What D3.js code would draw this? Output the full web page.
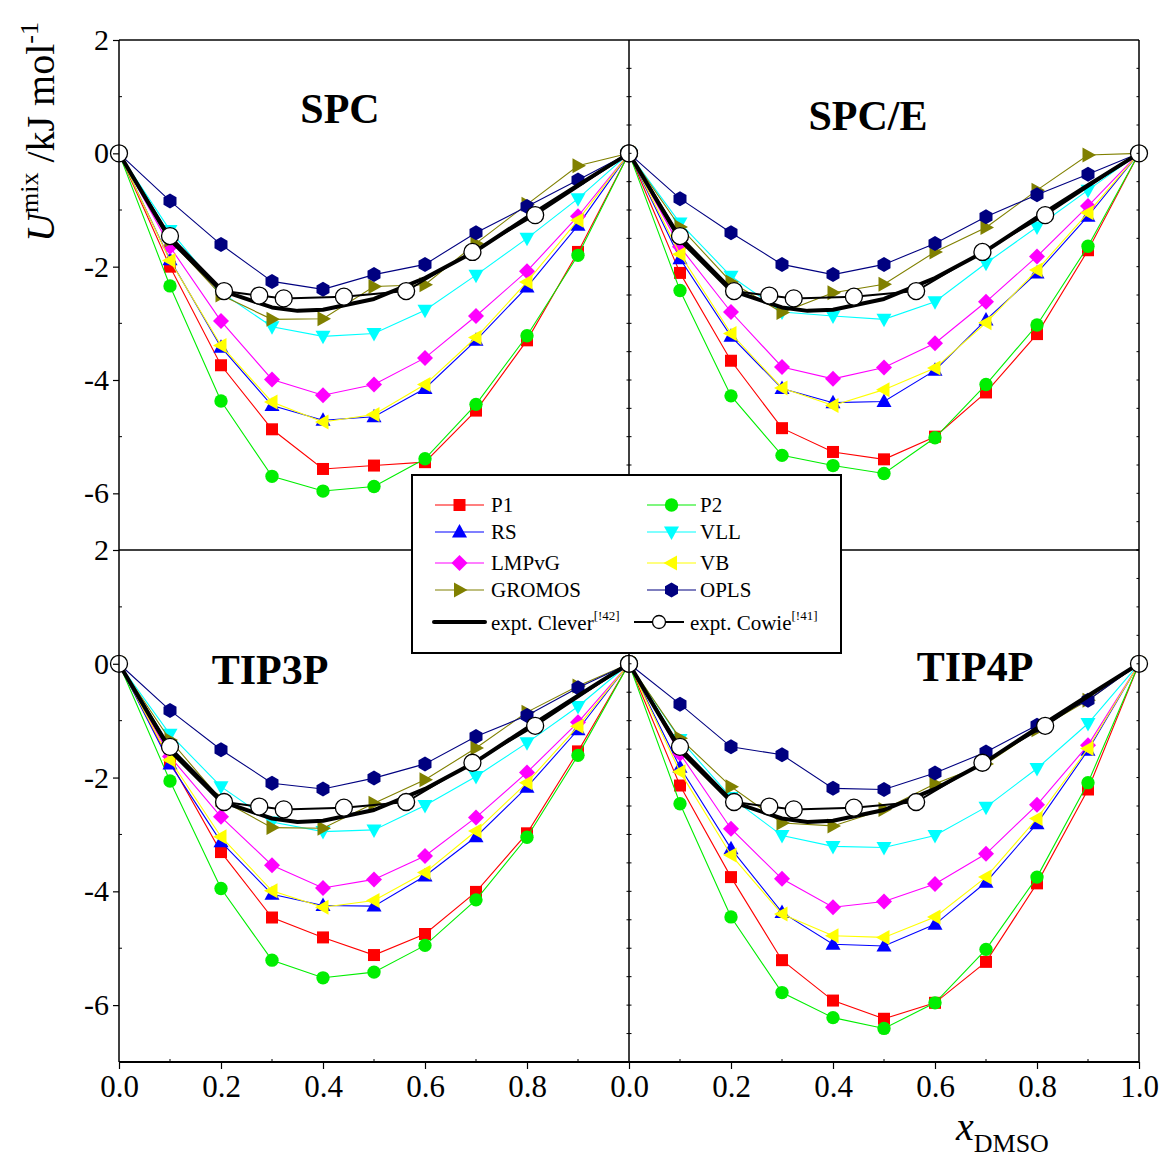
<!DOCTYPE html>
<html>
<head>
<meta charset="utf-8">
<script src="https://cdn.jsdelivr.net/npm/d3@7/dist/d3.min.js"></script>
<style>
  html, body { margin: 0; padding: 0; background: #fff; }
  svg { display: block; font-family: "Liberation Serif", "Times New Roman", serif; }
</style>
</head>
<body>
<svg id="chart" width="1164" height="1162"></svg>
<script>
// Mole fractions of DMSO at which the simulations were run
const xSim = [0, 0.1, 0.2, 0.3, 0.4, 0.5, 0.6, 0.7, 0.8, 0.9, 1.0];

// Force-field models (legend order = drawing order)
const models = ["P1", "P2", "RS", "VLL", "LMPvG", "VB", "GROMOS", "OPLS"];

// U_mix (kJ/mol) for each water model panel
const spcP1     = [0, -2.00, -3.74, -4.87, -5.57, -5.51, -5.45, -4.54, -3.30, -1.74, 0];
const spcP2     = [0, -2.34, -4.37, -5.70, -5.96, -5.88, -5.39, -4.43, -3.22, -1.80, 0];
const spcRS     = [0, -1.88, -3.42, -4.45, -4.71, -4.65, -4.15, -3.30, -2.36, -1.27, 0];
const spcVLL    = [0, -1.36, -2.45, -3.06, -3.23, -3.18, -2.77, -2.15, -1.50, -0.80, 0];
const spcLMPvG  = [0, -1.65, -2.96, -3.99, -4.27, -4.08, -3.61, -2.87, -2.08, -1.11, 0];
const spcVB     = [0, -1.89, -3.39, -4.39, -4.74, -4.61, -4.08, -3.25, -2.27, -1.18, 0];
const spcGROMOS = [0, -1.53, -2.50, -2.93, -2.92, -2.35, -2.32, -1.59, -0.90, -0.22, 0];
const spcOPLS   = [0, -0.84, -1.61, -2.26, -2.40, -2.14, -1.96, -1.40, -0.94, -0.47, 0];

const spceP1     = [0, -2.11, -3.66, -4.85, -5.27, -5.40, -5.00, -4.22, -3.19, -1.71, 0];
const spceP2     = [0, -2.42, -4.28, -5.33, -5.51, -5.65, -5.02, -4.08, -3.03, -1.64, 0];
const spceRS     = [0, -1.86, -3.23, -4.15, -4.40, -4.38, -3.83, -2.94, -2.11, -1.11, 0];
const spceVLL    = [0, -1.23, -2.17, -2.80, -2.87, -2.93, -2.62, -1.94, -1.30, -0.65, 0];
const spceLMPvG  = [0, -1.65, -2.80, -3.77, -3.98, -3.78, -3.35, -2.62, -1.82, -0.93, 0];
const spceVB     = [0, -1.78, -3.18, -4.14, -4.45, -4.17, -3.79, -2.99, -2.06, -1.05, 0];
const spceGROMOS = [0, -1.30, -2.27, -2.81, -2.46, -2.31, -1.74, -1.31, -0.65, -0.03, 0];
const spceOPLS   = [0, -0.80, -1.40, -1.96, -2.14, -1.96, -1.59, -1.12, -0.73, -0.37, 0];

const tip3pP1     = [0, -1.72, -3.31, -4.46, -4.81, -5.12, -4.75, -4.01, -2.98, -1.54, 0];
const tip3pP2     = [0, -2.06, -3.95, -5.21, -5.52, -5.42, -4.95, -4.15, -3.05, -1.61, 0];
const tip3pRS     = [0, -1.76, -3.13, -4.05, -4.25, -4.26, -3.73, -3.04, -2.17, -1.16, 0];
const tip3pVLL    = [0, -1.24, -2.16, -2.78, -2.95, -2.92, -2.49, -1.98, -1.39, -0.75, 0];
const tip3pLMPvG  = [0, -1.63, -2.69, -3.54, -3.94, -3.79, -3.38, -2.70, -1.91, -1.03, 0];
const tip3pVB     = [0, -1.69, -3.04, -3.99, -4.28, -4.16, -3.67, -2.94, -2.09, -1.10, 0];
const tip3pGROMOS = [0, -1.34, -2.39, -2.88, -2.89, -2.45, -2.04, -1.48, -0.85, -0.39, 0];
const tip3pOPLS   = [0, -0.82, -1.51, -2.10, -2.20, -2.01, -1.76, -1.28, -0.91, -0.42, 0];

const tip4pP1     = [0, -2.14, -3.75, -5.21, -5.92, -6.24, -5.96, -5.24, -3.86, -2.21, 0];
const tip4pP2     = [0, -2.46, -4.45, -5.78, -6.22, -6.41, -5.96, -5.02, -3.75, -2.09, 0];
const tip4pRS     = [0, -1.82, -3.25, -4.37, -4.93, -4.96, -4.58, -3.84, -2.81, -1.52, 0];
const tip4pVLL    = [0, -1.33, -2.35, -3.02, -3.21, -3.23, -3.02, -2.52, -1.84, -1.05, 0];
const tip4pLMPvG  = [0, -1.58, -2.90, -3.78, -4.28, -4.18, -3.87, -3.34, -2.48, -1.43, 0];
const tip4pVB     = [0, -1.90, -3.36, -4.40, -4.78, -4.81, -4.45, -3.75, -2.72, -1.49, 0];
const tip4pGROMOS = [0, -1.31, -2.16, -2.80, -2.85, -2.56, -2.11, -1.76, -1.16, -0.64, 0];
const tip4pOPLS   = [0, -0.71, -1.46, -1.60, -2.19, -2.21, -1.92, -1.55, -1.08, -0.64, 0];

// Experimental data (same in every panel)
const cleverX = [0, 0.1, 0.2, 0.3, 0.35, 0.4, 0.5, 0.6, 0.7, 0.8, 0.9, 1.0];
const cleverU = [0, -1.52, -2.42, -2.72, -2.78, -2.76, -2.57, -2.20, -1.72, -1.13, -0.56, 0];
const cowieX  = [0, 0.1, 0.206, 0.275, 0.323, 0.441, 0.563, 0.693, 0.816, 1.0];
const cowieU  = [0, -1.46, -2.43, -2.51, -2.56, -2.53, -2.43, -1.74, -1.09, 0];

// Panel titles and tick labels
const panelTitles = ["SPC", "SPC/E", "TIP3P", "TIP4P"];
const yTickValues = [2, 0, -2, -4, -6];
const xTickLeft   = [0, 0.2, 0.4, 0.6, 0.8];
const xTickRight  = [0, 0.2, 0.4, 0.6, 0.8, 1.0];

const panelData = [
  [spcP1, spcP2, spcRS, spcVLL, spcLMPvG, spcVB, spcGROMOS, spcOPLS],
  [spceP1, spceP2, spceRS, spceVLL, spceLMPvG, spceVB, spceGROMOS, spceOPLS],
  [tip3pP1, tip3pP2, tip3pRS, tip3pVLL, tip3pLMPvG, tip3pVB, tip3pGROMOS, tip3pOPLS],
  [tip4pP1, tip4pP2, tip4pRS, tip4pVLL, tip4pLMPvG, tip4pVB, tip4pGROMOS, tip4pOPLS]
];

const styles = {
  P1:     { color: "#ff0000", shape: "square" },
  P2:     { color: "#00ee00", shape: "circle" },
  RS:     { color: "#0000ff", shape: "triUp" },
  VLL:    { color: "#00ffff", shape: "triDown" },
  LMPvG:  { color: "#ff00ff", shape: "diamond" },
  VB:     { color: "#ffff00", shape: "triLeft" },
  GROMOS: { color: "#808000", shape: "triRight" },
  OPLS:   { color: "#000080", shape: "hexagon" }
};

function markerPath(shape) {
  switch (shape) {
    case "square":   return "M-6,-6H6V6H-6Z";
    case "circle":   return d3.symbol(d3.symbolCircle, 140)();
    case "triUp":    return "M0,-8L7.5,5.5L-7.5,5.5Z";
    case "triDown":  return "M0,8L7.5,-5.5L-7.5,-5.5Z";
    case "triLeft":  return "M-8,0L5.5,-7.5L5.5,7.5Z";
    case "triRight": return "M8,0L-5.5,-7.5L-5.5,7.5Z";
    case "diamond":  return "M0,-8L8,0L0,8L-8,0Z";
    case "hexagon": {
      const r = 7.5;
      const pts = d3.range(6).map(i => {
        const a = Math.PI / 6 + i * Math.PI / 3;
        return [r * Math.cos(a), r * Math.sin(a)];
      });
      return "M" + pts.map(p => p.join(",")).join("L") + "Z";
    }
  }
}

const svg = d3.select("#chart");

const plotLeft = 119, plotMid = 629, plotRight = 1139;
const plotTop = 40, plotMidY = 550, plotBottom = 1062;

const panels = [
  { x: [plotLeft, plotMid],  y: [plotMidY, plotTop] },
  { x: [plotMid, plotRight], y: [plotMidY, plotTop] },
  { x: [plotLeft, plotMid],  y: [plotBottom, plotMidY] },
  { x: [plotMid, plotRight], y: [plotBottom, plotMidY] }
];

panels.forEach((p, i) => {
  const xs = d3.scaleLinear().domain([0, 1]).range(p.x);
  const ys = d3.scaleLinear().domain([-7, 2]).range(p.y);
  const g = svg.append("g");
  const line = d3.line().x(d => xs(d[0])).y(d => ys(d[1]));

  // model series
  panelData[i].forEach((vals, k) => {
    const st = styles[models[k]];
    const pts = xSim.map((x, j) => [x, vals[j]]);
    g.append("path").datum(pts).attr("d", line)
      .attr("fill", "none").attr("stroke", st.color).attr("stroke-width", 1.1);
    g.selectAll(null).data(pts).join("path")
      .attr("d", markerPath(st.shape))
      .attr("transform", d => `translate(${xs(d[0])},${ys(d[1])})`)
      .attr("fill", st.color);
  });

  // experiment: Clever (thick line)
  g.append("path").datum(cleverX.map((x, j) => [x, cleverU[j]]))
    .attr("d", line).attr("fill", "none").attr("stroke", "#000")
    .attr("stroke-width", 4).attr("stroke-linejoin", "round");

  // experiment: Cowie (line + open circles)
  const cw = cowieX.map((x, j) => [x, cowieU[j]]);
  g.append("path").datum(cw).attr("d", line).attr("fill", "none")
    .attr("stroke", "#000").attr("stroke-width", 2);
  g.selectAll(null).data(cw).join("circle")
    .attr("cx", d => xs(d[0])).attr("cy", d => ys(d[1])).attr("r", 8.5)
    .attr("fill", "#fff").attr("stroke", "#000").attr("stroke-width", 1.3);

  // inner ticks on the right edge of each panel
  const minorY = d3.range(-7, 2.01, 0.5);
  g.selectAll(null).data(minorY).join("line")
    .attr("x1", p.x[1]).attr("x2", p.x[1] - 2.5)
    .attr("y1", d => ys(d)).attr("y2", d => ys(d))
    .attr("stroke", "#000").attr("stroke-width", 1);
  if (i % 2 === 1) {
    g.selectAll(null).data(minorY).join("line")
      .attr("x1", p.x[0]).attr("x2", p.x[0] + 2.5)
      .attr("y1", d => ys(d)).attr("y2", d => ys(d))
      .attr("stroke", "#000").attr("stroke-width", 1);
  }

  // left y axis
  if (i % 2 === 0) {
    const ax = d3.axisLeft(ys).tickValues(yTickValues)
      .tickFormat(d => String(d))
      .tickSize(6).tickPadding(4);
    const ag = svg.append("g").attr("transform", `translate(${plotLeft},0)`).call(ax);
    ag.select(".domain").remove();
    ag.selectAll("text").attr("font-size", 30).attr("font-family", "Liberation Serif").attr("fill", "#000");
    ag.selectAll("line").attr("stroke-width", 1.2);
    // minor inner ticks at odd values
    svg.append("g").selectAll(null).data([1, -1, -3, -5]).join("line")
      .attr("x1", plotLeft).attr("x2", plotLeft + 3)
      .attr("y1", d => ys(d)).attr("y2", d => ys(d))
      .attr("stroke", "#000");
  }

  // bottom x axis
  if (i >= 2) {
    const vals = i === 2 ? xTickLeft : xTickRight;
    const ax = d3.axisBottom(xs).tickValues(vals).tickFormat(d3.format(".1f"))
      .tickSize(7).tickPadding(6);
    const ag = svg.append("g").attr("transform", `translate(0,${plotBottom})`).call(ax);
    ag.select(".domain").remove();
    ag.selectAll("text").attr("font-size", 31).attr("font-family", "Liberation Serif").attr("fill", "#000");
    ag.selectAll("line").attr("stroke-width", 1.2);
    svg.append("g").selectAll(null).data([0.1, 0.3, 0.5, 0.7, 0.9]).join("line")
      .attr("x1", d => xs(d)).attr("x2", d => xs(d))
      .attr("y1", plotBottom).attr("y2", plotBottom - 3)
      .attr("stroke", "#000");
  }
});

// frame lines
const frame = svg.append("g").attr("stroke", "#000").attr("fill", "none");
frame.append("line").attr("x1", plotLeft).attr("x2", plotRight).attr("y1", plotTop).attr("y2", plotTop).attr("stroke", "#444").attr("stroke-width", 2);
frame.append("line").attr("x1", plotLeft).attr("x2", plotRight).attr("y1", plotMidY).attr("y2", plotMidY).attr("stroke-width", 1.3);
frame.append("line").attr("x1", plotLeft).attr("x2", plotRight).attr("y1", plotBottom).attr("y2", plotBottom).attr("stroke-width", 2);
frame.append("line").attr("x1", plotLeft).attr("x2", plotLeft).attr("y1", plotTop).attr("y2", plotBottom).attr("stroke-width", 1.5);
frame.append("line").attr("x1", plotMid).attr("x2", plotMid).attr("y1", plotTop).attr("y2", plotBottom).attr("stroke-width", 1.5);
frame.append("line").attr("x1", plotRight).attr("x2", plotRight).attr("y1", plotTop).attr("y2", plotBottom).attr("stroke-width", 1.5);

// panel titles
const titlePos = [[340, 123], [868, 130], [270, 684], [975, 681]];
panelTitles.forEach((t, i) => {
  svg.append("text").attr("x", titlePos[i][0]).attr("y", titlePos[i][1])
    .attr("text-anchor", "middle").attr("font-size", 42).attr("font-weight", "bold")
    .attr("fill", "#000").text(t);
});

// legend
const lg = svg.append("g");
lg.append("rect").attr("x", 412).attr("y", 475).attr("width", 429).attr("height", 178)
  .attr("fill", "#fff").attr("stroke", "#000").attr("stroke-width", 2);
const legRows = [505, 532, 563, 590];
const legCols = [{ x1: 435, x2: 484, tx: 491 }, { x1: 647, x2: 696, tx: 700 }];
models.forEach((m, k) => {
  const col = legCols[k % 2], y = legRows[Math.floor(k / 2)];
  const st = styles[m];
  const cx = (col.x1 + col.x2) / 2;
  lg.append("line").attr("x1", col.x1).attr("x2", col.x2).attr("y1", y).attr("y2", y)
    .attr("stroke", st.color).attr("stroke-width", 1.1);
  lg.append("path").attr("d", markerPath(st.shape))
    .attr("transform", `translate(${cx},${y})`).attr("fill", st.color);
  lg.append("text").attr("x", col.tx).attr("y", y + 7).attr("font-size", 21)
    .attr("fill", "#000").text(m);
});
// experimental legend entries
lg.append("line").attr("x1", 434).attr("x2", 485).attr("y1", 622).attr("y2", 622)
  .attr("stroke", "#000").attr("stroke-width", 4).attr("stroke-linecap", "round");
const t1 = lg.append("text").attr("x", 491).attr("y", 630).attr("font-size", 21).attr("fill", "#000");
t1.append("tspan").text("expt. Clever");
t1.append("tspan").attr("font-size", 13).attr("dy", -10).text("[!42]");
lg.append("line").attr("x1", 634).attr("x2", 684).attr("y1", 622).attr("y2", 622)
  .attr("stroke", "#000").attr("stroke-width", 2);
lg.append("circle").attr("cx", 659).attr("cy", 622).attr("r", 6.5)
  .attr("fill", "#fff").attr("stroke", "#000").attr("stroke-width", 1.3);
const t2 = lg.append("text").attr("x", 690).attr("y", 630).attr("font-size", 21).attr("fill", "#000");
t2.append("tspan").text("expt. Cowie");
t2.append("tspan").attr("font-size", 13).attr("dy", -10).text("[!41]");

// axis titles
const yl = svg.append("text").attr("transform", "translate(54,132) rotate(-90)")
  .attr("text-anchor", "middle").attr("font-size", 40).attr("fill", "#000");
yl.append("tspan").attr("font-style", "italic").text("U");
yl.append("tspan").attr("font-size", 26).attr("dy", -16).text("mix");
yl.append("tspan").attr("dy", 16).text(" /kJ mol");
yl.append("tspan").attr("font-size", 26).attr("dy", -16).text("-1");

const xl = svg.append("text").attr("x", 956).attr("y", 1140).attr("font-size", 40).attr("fill", "#000");
xl.append("tspan").attr("font-style", "italic").text("x");
xl.append("tspan").attr("font-size", 26).attr("dy", 12).text("DMSO");
</script>
</body>
</html>
